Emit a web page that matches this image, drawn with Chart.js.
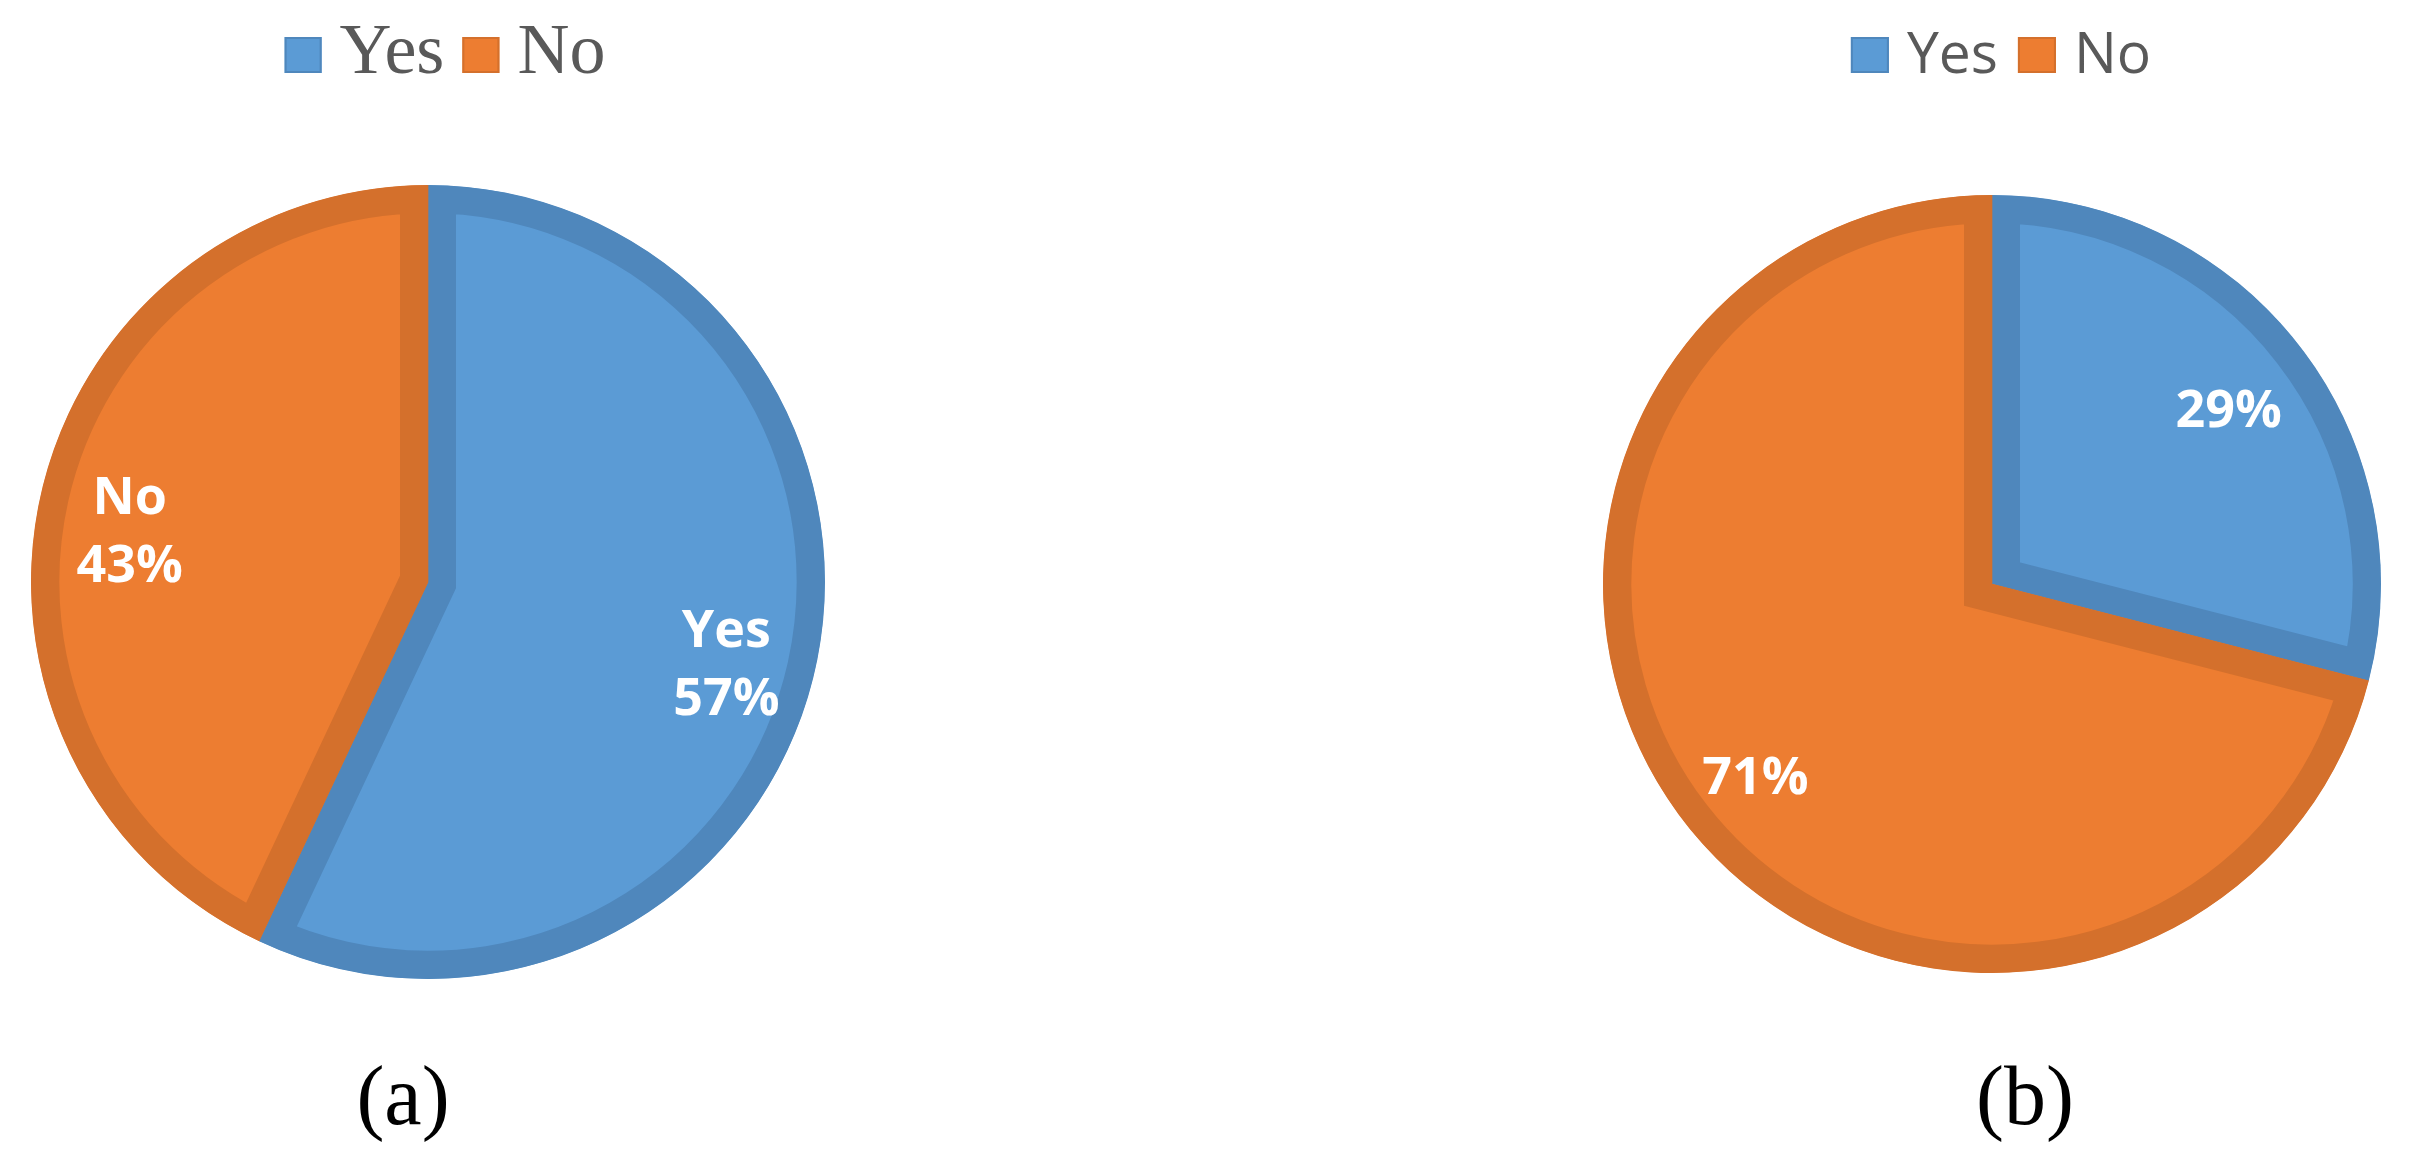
<!DOCTYPE html>
<html>
<head>
<meta charset="utf-8">
<script src="https://cdn.jsdelivr.net/npm/chart.js@4.4.1/dist/chart.umd.min.js"></script>
<style>
  html, body { margin: 0; padding: 0; background: #fff; }
  #wrap { position: relative; width: 2415px; height: 1164px; overflow: hidden; }
  canvas { position: absolute; top: 0; }
  #chartA { left: 0; }
  #chartB { left: 1560px; }
</style>
</head>
<body>
<div id="wrap">
  <canvas id="chartA" width="856" height="1164"></canvas>
  <canvas id="chartB" width="855" height="1164"></canvas>
</div>
<script>
const categories = ["Yes", "No"];
const valuesA = [57, 43];
const valuesB = [29, 71];
const captionA = "(a)";
const captionB = "(b)";

const fillColors = ["#5B9BD5", "#ED7D31"];
const borderColors = ["#4F87BC", "#D4702C"];

// labels inside the slices, placed along the middle angle of each arc
const sliceLabels = {
  id: "sliceLabels",
  afterDatasetsDraw(chart, args, opts) {
    const ctx = chart.ctx;
    const data = chart.data.datasets[0].data;
    const total = data.reduce((a, b) => a + b, 0);
    chart.getDatasetMeta(0).data.forEach((arc, i) => {
      const p = arc.getProps(["x", "y", "startAngle", "endAngle", "outerRadius"], true);
      const mid = (p.startAngle + p.endAngle) / 2;
      const cx = p.x + Math.cos(mid) * p.outerRadius * opts.pos;
      const cy = p.y + Math.sin(mid) * p.outerRadius * opts.pos + opts.dy;
      const lines = [];
      if (opts.showName) lines.push(chart.data.labels[i]);
      lines.push(Math.round(data[i] / total * 100) + "%");
      ctx.save();
      ctx.fillStyle = "#fff";
      ctx.font = "bold " + opts.size + "px 'Open Sans'";
      ctx.textAlign = "center";
      ctx.textBaseline = "middle";
      const top = cy - (lines.length - 1) * opts.lineHeight / 2;
      lines.forEach((t, k) => ctx.fillText(t, cx, top + k * opts.lineHeight));
      ctx.restore();
    });
  }
};

// legend row and caption drawn on the same canvas
const legendAndCaption = {
  id: "legendAndCaption",
  afterDraw(chart, args, opts) {
    const ctx = chart.ctx;
    const ds = chart.data.datasets[0];
    ctx.save();
    ctx.font = opts.size + "px " + opts.family;
    ctx.textBaseline = "alphabetic";
    ctx.textAlign = "left";
    let width = 0;
    chart.data.labels.forEach((l, i) => {
      width += opts.boxW + opts.gap + ctx.measureText(l).width;
      if (i < chart.data.labels.length - 1) width += opts.itemGap;
    });
    let x = opts.centerX - width / 2;
    chart.data.labels.forEach((l, i) => {
      ctx.fillStyle = ds.backgroundColor[i];
      ctx.fillRect(x, opts.boxTop, opts.boxW, opts.boxH);
      ctx.strokeStyle = ds.borderColor[i];
      ctx.lineWidth = 2;
      ctx.strokeRect(x + 1, opts.boxTop + 1, opts.boxW - 2, opts.boxH - 2);
      x += opts.boxW + opts.gap;
      ctx.fillStyle = "#595959";
      ctx.fillText(l, x, opts.baseline);
      x += ctx.measureText(l).width + opts.itemGap;
    });
    ctx.fillStyle = "#000";
    ctx.textAlign = "center";
    ctx.font = "84px 'Liberation Serif'";
    ctx.fillText(opts.caption, opts.captionX, 1124);
    ctx.restore();
  }
};

function makePie(id, values, padding, labelOpts, legendOpts) {
  return new Chart(document.getElementById(id), {
    type: "pie",
    data: {
      labels: categories,
      datasets: [{
        data: values,
        backgroundColor: fillColors,
        borderColor: borderColors,
        borderWidth: 28,
        borderAlign: "inner",
        borderJoinStyle: "miter",
        hoverOffset: 0
      }]
    },
    options: {
      responsive: false,
      animation: false,
      layout: { padding: padding },
      plugins: {
        legend: { display: false },
        tooltip: { enabled: false },
        sliceLabels: labelOpts,
        legendAndCaption: legendOpts
      }
    },
    plugins: [sliceLabels, legendAndCaption]
  });
}

makePie("chartA", valuesA,
  { left: 31, right: 31, top: 185, bottom: 185 },
  { pos: 0.77, dy: 18, showName: true, size: 52, lineHeight: 68 },
  { centerX: 445, boxTop: 37, boxW: 37, boxH: 36, gap: 18, itemGap: 18,
    family: "'Liberation Serif'", size: 72, baseline: 73,
    caption: captionA, captionX: 403 });

makePie("chartB", valuesB,
  { left: 43, right: 34, top: 195, bottom: 191 },
  { pos: 0.77, dy: 12, showName: false, size: 52, lineHeight: 68 },
  { centerX: 441, boxTop: 37, boxW: 38, boxH: 36, gap: 18, itemGap: 20,
    family: "'Open Sans'", size: 57, baseline: 73,
    caption: captionB, captionX: 465 });
</script>
</body>
</html>
